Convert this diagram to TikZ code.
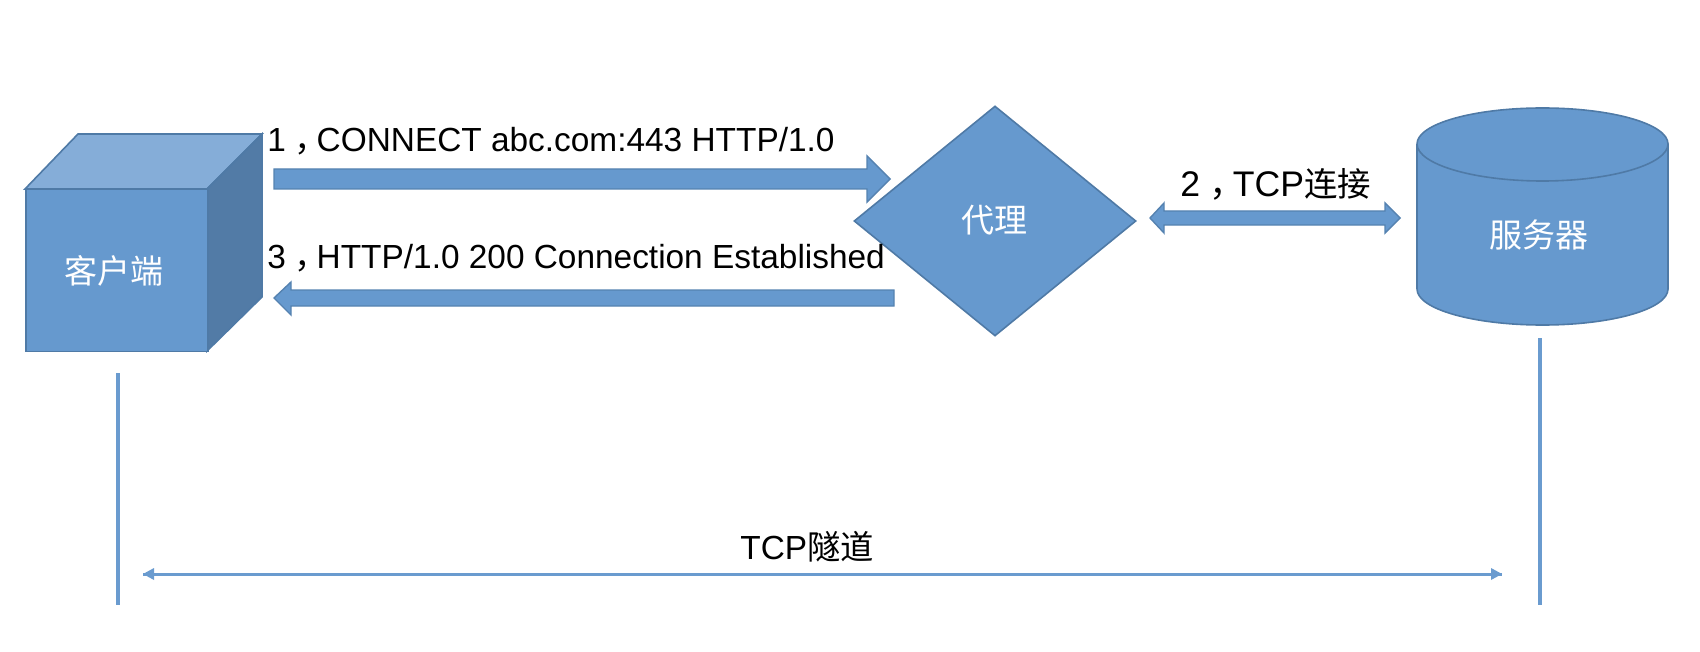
\documentclass[tikz,border=0pt]{standalone}
\usepackage{fontspec}
\setmainfont{Liberation Sans}
\newfontfamily\cjk{Noto Sans CJK SC}
\newcommand{\fwcomma}{\kern0.25em{\cjk，}\kern-0.33em}
\usetikzlibrary{shapes.geometric}
\definecolor{bluefill}{HTML}{6699CE}
\definecolor{blueedge}{HTML}{4F7AA6}
\definecolor{cubetop}{HTML}{85ADD8}
\definecolor{cubeside}{HTML}{527BA6}
\definecolor{guide}{HTML}{6A9BCF}
\tikzset{
  solid shape/.style={fill=bluefill,draw=blueedge,line width=0.8pt,line join=miter},
  block arrow/.style={fill=bluefill,draw=blueedge!75!bluefill,line width=0.7pt,line join=miter},
  guide line/.style={draw=guide,line width=1.75pt},
  tunnel/.style={draw=guide,line width=1.5pt},
  inner label/.style={text=white,font=\cjk\fontsize{16.5}{18}\selectfont,inner sep=0pt},
  msg/.style={text=black,font=\fontsize{16.7}{20}\selectfont,inner sep=0pt,anchor=base west},
}
\begin{document}
\begin{tikzpicture}[x=0.5pt,y=-0.5pt]
\useasboundingbox (0,0) rectangle (1700,652);
% cube
\fill[cubetop,draw=blueedge,line width=0.8pt,line join=miter] (25,189) -- (78,134) -- (262,134) -- (207,189) -- cycle;
\fill[cubeside,draw=blueedge,line width=0.8pt,line join=miter] (207,189) -- (262,134) -- (262,297) -- (207,351) -- cycle;
\node[solid shape,minimum width=91pt,minimum height=81pt,inner sep=0pt,anchor=north west] (client) at (25,188.5) {};
\node[inner label] (clientlabel) at (114,271) {客户端};
% diamond
\node[solid shape,diamond,inner sep=0pt,minimum width=141pt,minimum height=115pt] (proxy) at (995,221) {};
\node[inner label] (proxylabel) at (994,220) {代理};
% cylinder
\path[solid shape] (1417,144) -- (1417,289)
  .. controls (1417,309) and (1473,325) .. (1542.5,325)
  .. controls (1612,325) and (1668,309) .. (1668,289)
  -- (1668,144)
  .. controls (1668,124) and (1612,108) .. (1542.5,108)
  .. controls (1473,108) and (1417,124) .. (1417,144) -- cycle;
\path[solid shape,fill=none] (1417,144)
  .. controls (1417,164) and (1473,181) .. (1542.5,181)
  .. controls (1612,181) and (1668,164) .. (1668,144);
\node[inner label] (server) at (1539,235) {服务器};
% block arrows
\path[block arrow] (274,169) -- (867,169) -- (867,156) -- (890,179) -- (867,202) -- (867,189) -- (274,189) -- cycle;
\path[block arrow] (894,290) -- (291,290) -- (291,282) -- (274,298) -- (291,315) -- (291,306) -- (894,306) -- cycle;
\path[block arrow] (1150,218) -- (1164,203) -- (1164,211) -- (1385,211) -- (1385,203) -- (1400,218) -- (1385,233) -- (1385,225) -- (1164,225) -- (1164,233) -- cycle;
% messages
\node[msg] (m1) at (267,152) {1\fwcomma CONNECT abc.com:443 HTTP/1.0};
\node[msg] (m3) at (267,268) {3\fwcomma HTTP/1.0 200 Connection Established};
\node[msg,font=\fontsize{17.8}{20}\selectfont] (m2) at (1180,197) {2\fwcomma TCP{\fontsize{16.7}{20}\selectfont\cjk 连接}};
\node[msg] (m4) at (740,559) {TCP{\cjk 隧道}};
% guides
\coordinate (clientA) at (118,373);
\coordinate (clientB) at (118,605);
\coordinate (serverA) at (1540,338);
\coordinate (serverB) at (1540,605);
\coordinate (tunL) at (143,574);
\coordinate (tunR) at (1502,574);
\draw[guide line] (clientA) -- (clientB);
\draw[guide line] (serverA) -- (serverB);
\draw[tunnel] (tunL) -- (tunR);
\fill[guide] (tunL) -- (154,568) -- (154,580) -- cycle;
\fill[guide] (tunR) -- (1491,568) -- (1491,580) -- cycle;
\end{tikzpicture}
\end{document}
